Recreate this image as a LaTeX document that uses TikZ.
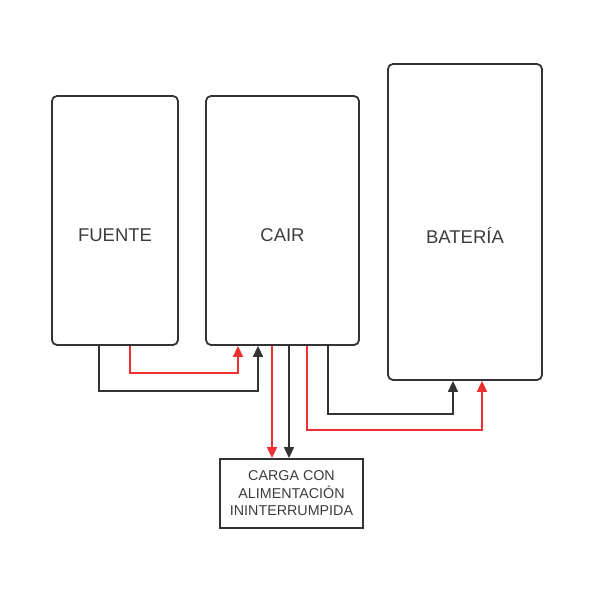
\documentclass[tikz,border=0pt]{standalone}
\usepackage{fontspec}
\setmainfont{Liberation Sans}
\usetikzlibrary{arrows.meta}

\definecolor{linegray}{HTML}{333333}
\definecolor{textgray}{HTML}{3C3C3C}
\definecolor{flowred}{HTML}{F03030}

\begin{document}
\begin{tikzpicture}[
        x=1pt, y=-1pt,
        unit/.style={
            draw=linegray,
            line width=1.8pt,
            rounded corners=5pt,
            inner sep=0pt
        },
        loadbox/.style={
            draw=linegray,
            line width=1.8pt,
            inner sep=0pt,
            align=center,
            text=textgray,
            font=\fontsize{14.3}{17.5}\selectfont
        },
        unitlabel/.style={
            text=textgray,
            font=\fontsize{18.5}{22}\selectfont,
            yshift=-15pt
        },
        blkflow/.style={
            -{Triangle[length=11pt,width=10pt]},
            line width=1.6pt,
            linegray
        },
        redflow/.style={
            -{Triangle[length=11pt,width=10pt]},
            line width=1.6pt,
            flowred
        }
    ]
    \useasboundingbox (0,0) rectangle (600,600);

    % Units
    \node[unit, minimum width=126pt, minimum height=249pt,
        label={[unitlabel]center:FUENTE}] (fuente) at (115,220.5) {};
    \node[unit, minimum width=153pt, minimum height=249pt,
        label={[unitlabel]center:CAIR}] (cair) at (282.5,220.5) {};
    \node[unit, minimum width=154pt, minimum height=316pt,
        label={[unitlabel, yshift=1.5pt]center:BATERÍA}] (bateria) at (465,222) {};

    % Load
    \node[loadbox, minimum width=143pt, minimum height=69pt] (carga) at (291.5,493.5)
        {CARGA CON\\ALIMENTACIÓN\\ININTERRUMPIDA};

    % Fuente -> CAIR
    \draw[blkflow] ([xshift=-16pt]fuente.south) -- ++(0,45) -| ([xshift=-24.5pt]cair.south);
    \draw[redflow] ([xshift=15pt]fuente.south) -- ++(0,27) -| ([xshift=-44.5pt]cair.south);

    % CAIR -> Carga
    \draw[redflow] ([xshift=-10.5pt]cair.south) -- ([xshift=-19.5pt]carga.north);
    \draw[blkflow] ([xshift=6.5pt]cair.south) -- ([xshift=-2.5pt]carga.north);

    % CAIR -> Bateria
    \draw[blkflow] ([xshift=45.5pt]cair.south) -- ++(0,68) -| ([xshift=-12pt]bateria.south);
    \draw[redflow] ([xshift=24.5pt]cair.south) -- ++(0,84) -| ([xshift=17pt]bateria.south);

\end{tikzpicture}
\end{document}
